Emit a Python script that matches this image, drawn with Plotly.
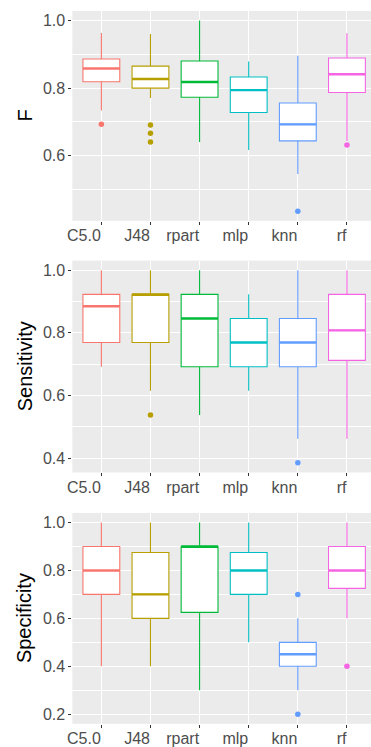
import plotly.graph_objects as go

categories = ["C5.0", "J48", "rpart", "mlp", "knn", "rf"]
colors = ["#F8766D", "#B79F00", "#00BA38", "#00BFC4", "#619CFF", "#F564E3"]

# F measure
f_low = [0.734, 0.771, 0.641, 0.617, 0.546, 0.644]
f_q1 = [0.819, 0.800, 0.773, 0.728, 0.644, 0.787]
f_med = [0.858, 0.827, 0.818, 0.794, 0.693, 0.841]
f_q3 = [0.886, 0.865, 0.880, 0.833, 0.756, 0.889]
f_up = [0.963, 0.960, 1.000, 0.879, 0.896, 0.962]
f_out_cat = ["C5.0", "J48", "J48", "J48", "knn", "rf"]
f_out_val = [0.693, 0.691, 0.667, 0.641, 0.436, 0.632]

# Sensitivity
s_low = [0.692, 0.615, 0.538, 0.615, 0.462, 0.462]
s_q1 = [0.769, 0.769, 0.692, 0.692, 0.692, 0.712]
s_med = [0.885, 0.923, 0.846, 0.769, 0.769, 0.808]
s_q3 = [0.923, 0.923, 0.923, 0.846, 0.846, 0.923]
s_up = [1.000, 1.000, 1.000, 0.923, 1.000, 1.000]
s_out_cat = ["J48", "knn"]
s_out_val = [0.538, 0.385]

# Specificity
p_low = [0.400, 0.400, 0.300, 0.500, 0.300, 0.600]
p_q1 = [0.700, 0.600, 0.625, 0.700, 0.400, 0.725]
p_med = [0.800, 0.700, 0.900, 0.800, 0.450, 0.800]
p_q3 = [0.900, 0.875, 0.900, 0.875, 0.500, 0.900]
p_up = [1.000, 1.000, 1.000, 1.000, 0.600, 1.000]
p_out_cat = ["knn", "knn", "rf"]
p_out_val = [0.700, 0.200, 0.400]

panels = [
    ("F", f_low, f_q1, f_med, f_q3, f_up, f_out_cat, f_out_val),
    ("Sensitivity", s_low, s_q1, s_med, s_q3, s_up, s_out_cat, s_out_val),
    ("Specificity", p_low, p_q1, p_med, p_q3, p_up, p_out_cat, p_out_val),
]

W, H = 371, 747
BOX_W = 0.75
FONT = "Liberation Sans, Arial, sans-serif"

# pixel layout of the panels (top, bottom)
px_left = 68.3
panel_px = [(11, 222), (262, 475), (515.7, 727.7)]

fig = go.Figure()
layout = dict(
    width=W, height=H,
    margin=dict(l=0, r=0, t=0, b=0),
    paper_bgcolor="white",
    plot_bgcolor="#EBEBEB",
    showlegend=False,
    font=dict(family=FONT, size=16, color="#4D4D4D"),
    annotations=[],
    shapes=[],
)

for p, (title, low, q1, med, q3, up, oc, ov) in enumerate(panels):
    sfx = "" if p == 0 else str(p + 1)
    xa, ya = "x" + sfx, "y" + sfx
    idx = list(range(len(categories)))
    for i, c in enumerate(categories):
        fig.add_trace(go.Box(
            x=[i], q1=[q1[i]], median=[med[i]], q3=[q3[i]],
            lowerfence=[low[i]], upperfence=[up[i]],
            width=BOX_W, whiskerwidth=0, boxpoints=False,
            fillcolor="white", line=dict(color=colors[i], width=1.1),
            xaxis=xa, yaxis=ya, hoverinfo="skip",
        ))
        fig.add_trace(go.Scatter(
            x=[i - BOX_W / 2, i + BOX_W / 2], y=[med[i], med[i]],
            mode="lines", line=dict(color=colors[i], width=2.4),
            xaxis=xa, yaxis=ya, hoverinfo="skip",
        ))
    ox = [categories.index(c) for c in oc]
    fig.add_trace(go.Scatter(
        x=ox, y=ov, mode="markers",
        marker=dict(color=[colors[categories.index(c)] for c in oc], size=5.5),
        xaxis=xa, yaxis=ya, hoverinfo="skip",
    ))

    allv = low + up + ov
    lo, hi = min(allv), max(allv)
    ext = (hi - lo) * 0.05
    top, bot = panel_px[p]
    layout["xaxis" + sfx] = dict(
        domain=[px_left / W, 1.0], anchor=ya,
        range=[-0.59, 5.49],
        tickmode="array", tickvals=idx, ticktext=categories,
        ticklabelposition="outside left",
        showgrid=True, gridcolor="white", gridwidth=1.1,
        zeroline=False, ticks="outside", ticklen=3, tickcolor="#333333",
        tickwidth=1, showline=False,
        tickfont=dict(family=FONT, size=16, color="#4D4D4D"),
    )
    layout["yaxis" + sfx] = dict(
        domain=[1 - bot / H, 1 - top / H], anchor=xa,
        range=[lo - ext, hi + ext],
        tick0=0, dtick=0.2, tickformat=".1f",
        showgrid=True, gridcolor="white", gridwidth=1.1,
        minor=dict(dtick=0.1, tick0=0, showgrid=True, gridcolor="white",
                   gridwidth=0.55, ticks=""),
        zeroline=False, ticks="outside", ticklen=3, tickcolor="#333333",
        tickwidth=1, showline=False,
        tickfont=dict(family=FONT, size=16, color="#4D4D4D"),
    )
    layout["annotations"].append(dict(
        text=title, xref="paper", yref="paper",
        x=20 / W, y=1 - (top + bot) / 2 / H,
        textangle=-90, showarrow=False,
        font=dict(family=FONT, size=20, color="black"),
        xanchor="center", yanchor="middle",
    ))

fig.update_layout(**layout)
fig.write_html(
    "out.html",
    config={"displayModeBar": False},
    post_script="document.body.style.margin='0';document.body.style.overflow='hidden';",
)
